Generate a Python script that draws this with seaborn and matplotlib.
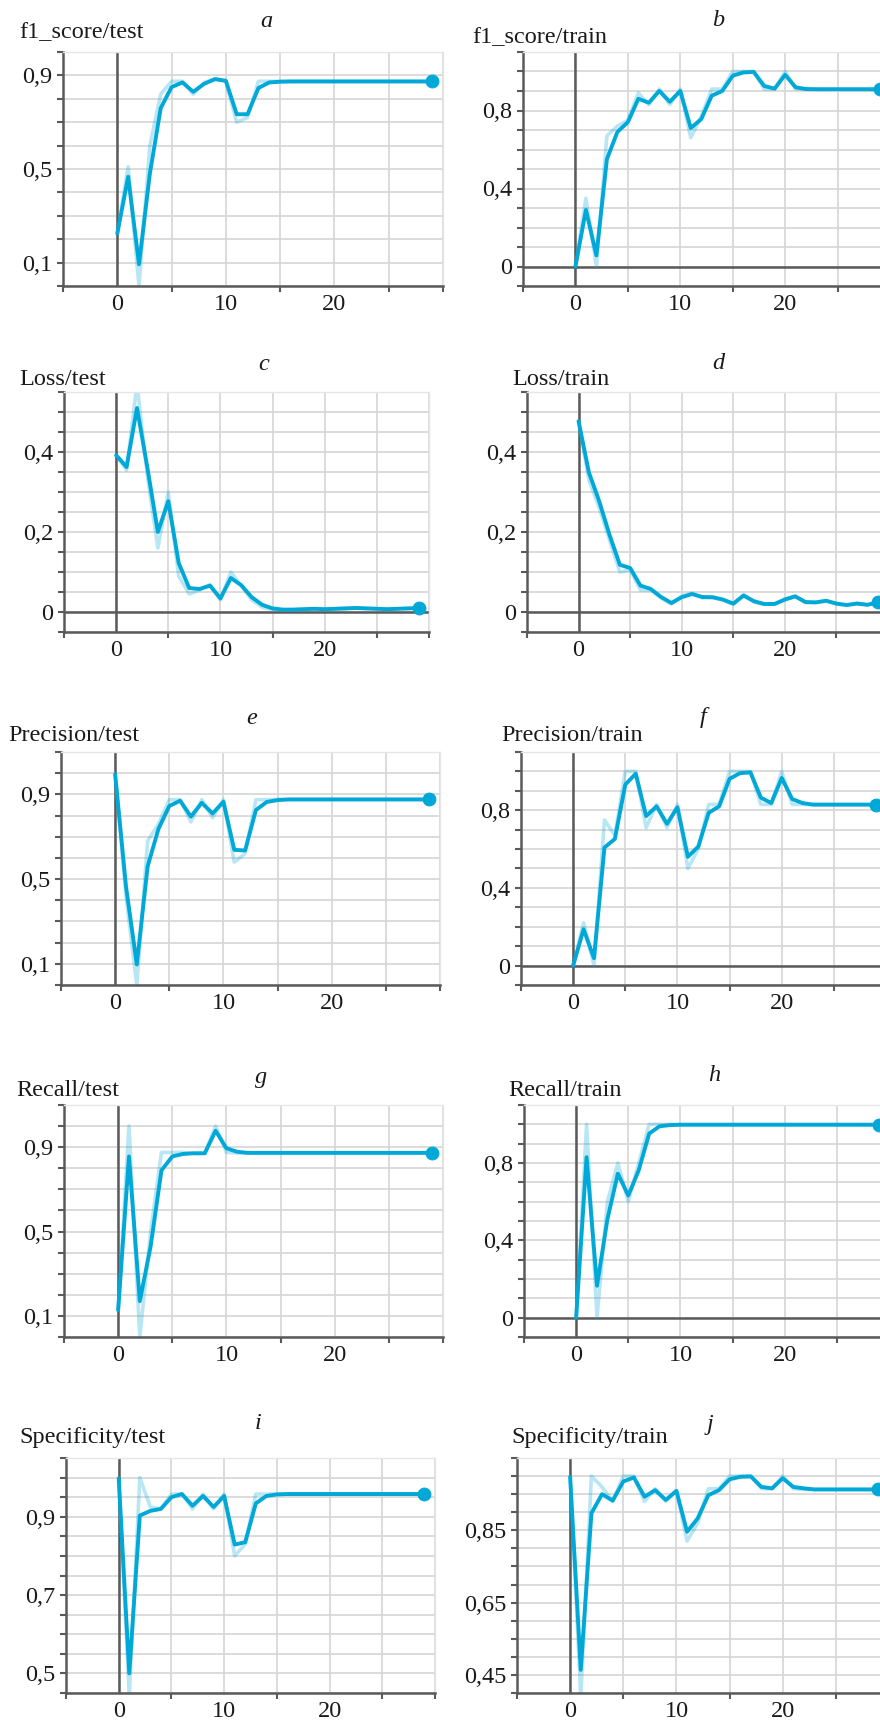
import numpy as np
import pandas as pd
import matplotlib
matplotlib.use("Agg")
import matplotlib.pyplot as plt
from matplotlib.ticker import FixedLocator, MultipleLocator
import seaborn as sns

# ---------------- data ----------------
epochs = list(range(30))

f1_test_raw = [0.224, 0.51, 0.0, 0.60, 0.82, 0.875, 0.875, 0.82, 0.87, 0.885, 0.875, 0.70, 0.72, 0.875, 0.875,
               0.875, 0.875, 0.875, 0.875, 0.875, 0.875, 0.875, 0.875, 0.875, 0.875, 0.875, 0.875, 0.875, 0.875, 0.875]
f1_test_smooth = [0.224, 0.467, 0.093, 0.48, 0.76, 0.85, 0.87, 0.83, 0.864, 0.884, 0.877, 0.734, 0.734, 0.846, 0.870,
                  0.873, 0.874, 0.874, 0.874, 0.874, 0.874, 0.874, 0.874, 0.874, 0.874, 0.874, 0.874, 0.874, 0.874, 0.874]

f1_train_raw = [0.0, 0.35, 0.0, 0.67, 0.72, 0.75, 0.89, 0.83, 0.91, 0.83, 0.91, 0.66, 0.77, 0.91, 0.91,
                1.0, 1.0, 1.0, 0.91, 0.91, 1.0, 0.91, 0.909, 0.909, 0.909, 0.909, 0.909, 0.909, 0.909, 0.909]
f1_train_smooth = [0.0, 0.29, 0.057, 0.55, 0.69, 0.74, 0.86, 0.84, 0.90, 0.845, 0.90, 0.71, 0.756, 0.876, 0.90,
                   0.978, 0.995, 0.998, 0.926, 0.912, 0.983, 0.919, 0.91, 0.909, 0.909, 0.909, 0.909, 0.909, 0.909, 0.909]

loss_test_raw = [0.392, 0.355, 0.57, 0.34, 0.16, 0.30, 0.09, 0.045, 0.055, 0.068, 0.03, 0.10, 0.065, 0.03, 0.012,
                 0.006, 0.005, 0.006, 0.007, 0.008, 0.007, 0.008, 0.009, 0.010, 0.009, 0.008, 0.007, 0.008, 0.009, 0.010]
loss_test_smooth = [0.392, 0.3625, 0.51, 0.36, 0.20, 0.277, 0.1225, 0.06, 0.0575, 0.066, 0.034, 0.085, 0.067, 0.037, 0.018,
                    0.009, 0.006, 0.006, 0.007, 0.008, 0.007, 0.008, 0.009, 0.010, 0.009, 0.008, 0.007, 0.008, 0.009, 0.010]

loss_train_raw = [0.477, 0.33, 0.26, 0.18, 0.10, 0.105, 0.055, 0.055, 0.035, 0.02, 0.04, 0.047, 0.035, 0.036, 0.03,
                  0.019, 0.044, 0.025, 0.019, 0.02, 0.033, 0.04, 0.023, 0.024, 0.029, 0.02, 0.017, 0.022, 0.018, 0.025]
loss_train_smooth = [0.477, 0.349, 0.277, 0.193, 0.118, 0.11, 0.066, 0.0575, 0.0375, 0.0225, 0.037, 0.045, 0.0375, 0.037, 0.031,
                     0.021, 0.041, 0.027, 0.02, 0.02, 0.031, 0.039, 0.025, 0.024, 0.028, 0.021, 0.0175, 0.021, 0.018, 0.024]

prec_test_raw = [0.995, 0.42, 0.0, 0.68, 0.76, 0.875, 0.875, 0.77, 0.875, 0.79, 0.875, 0.58, 0.62, 0.875, 0.875,
                 0.876, 0.876, 0.876, 0.876, 0.876, 0.876, 0.876, 0.876, 0.876, 0.876, 0.876, 0.876, 0.876, 0.876, 0.876]
prec_test_smooth = [0.995, 0.466, 0.097, 0.56, 0.737, 0.845, 0.87, 0.795, 0.86, 0.81, 0.865, 0.638, 0.635, 0.826, 0.864,
                    0.873, 0.876, 0.876, 0.876, 0.876, 0.876, 0.876, 0.876, 0.876, 0.876, 0.876, 0.876, 0.876, 0.876, 0.876]

prec_train_raw = [0.0, 0.22, 0.0, 0.75, 0.67, 1.0, 1.0, 0.71, 0.83, 0.71, 0.83, 0.5, 0.6, 0.83, 0.83,
                  1.0, 1.0, 1.0, 0.83, 0.83, 1.0, 0.83, 0.83, 0.829, 0.829, 0.829, 0.829, 0.829, 0.829, 0.829]
prec_train_smooth = [0.0, 0.187, 0.038, 0.608, 0.652, 0.932, 0.988, 0.77, 0.82, 0.73, 0.815, 0.56, 0.613, 0.787, 0.82,
                     0.962, 0.991, 0.995, 0.865, 0.837, 0.966, 0.858, 0.837, 0.829, 0.829, 0.829, 0.829, 0.829, 0.829, 0.829]

recall_test_raw = [0.127, 1.0, 0.0, 0.50, 0.875, 0.875, 0.875, 0.871, 0.871, 1.0, 0.875, 0.873, 0.873, 0.873, 0.873,
                   0.873, 0.873, 0.873, 0.873, 0.873, 0.873, 0.873, 0.873, 0.873, 0.873, 0.873, 0.873, 0.873, 0.873, 0.873]
recall_test_smooth = [0.127, 0.856, 0.17, 0.43, 0.79, 0.856, 0.868, 0.871, 0.871, 0.978, 0.895, 0.878, 0.873, 0.873, 0.873,
                      0.873, 0.873, 0.873, 0.873, 0.873, 0.873, 0.873, 0.873, 0.873, 0.873, 0.873, 0.873, 0.873, 0.873, 0.873]

recall_train_raw = [0.0, 1.0, 0.0, 0.6, 0.8, 0.6, 0.8, 1.0, 1.0, 1.0, 0.998, 0.998, 0.998, 0.998, 0.998,
                    0.998, 0.998, 0.998, 0.998, 0.998, 0.998, 0.998, 0.998, 0.998, 0.998, 0.998, 0.998, 0.998, 0.998, 0.998]
recall_train_smooth = [0.0, 0.83, 0.165, 0.51, 0.745, 0.632, 0.762, 0.952, 0.99, 0.996, 0.998, 0.998, 0.998, 0.998, 0.998,
                       0.998, 0.998, 0.998, 0.998, 0.998, 0.998, 0.998, 0.998, 0.998, 0.998, 0.998, 0.998, 0.998, 0.998, 0.998]

spec_test_raw = [0.998, 0.44, 1.0, 0.925, 0.92, 0.958, 0.958, 0.92, 0.958, 0.92, 0.958, 0.80, 0.83, 0.958, 0.958,
                 0.958, 0.958, 0.958, 0.958, 0.958, 0.958, 0.958, 0.958, 0.958, 0.958, 0.958, 0.958, 0.958, 0.958, 0.958]
spec_test_smooth = [0.998, 0.5, 0.903, 0.915, 0.92, 0.95, 0.958, 0.928, 0.953, 0.925, 0.953, 0.829, 0.835, 0.934, 0.953,
                    0.957, 0.958, 0.958, 0.958, 0.958, 0.958, 0.958, 0.958, 0.958, 0.958, 0.958, 0.958, 0.958, 0.958, 0.958]

spec_train_raw = [0.998, 0.39, 1.0, 0.97, 0.93, 1.0, 1.0, 0.93, 0.965, 0.93, 0.96, 0.82, 0.87, 0.965, 0.965,
                  1.0, 1.0, 1.0, 0.965, 0.965, 1.0, 0.965, 0.963, 0.963, 0.963, 0.963, 0.963, 0.963, 0.963, 0.963]
spec_train_smooth = [0.998, 0.464, 0.897, 0.95, 0.932, 0.985, 0.996, 0.943, 0.961, 0.934, 0.959, 0.846, 0.883, 0.947, 0.961,
                     0.991, 0.998, 0.999, 0.97, 0.966, 0.994, 0.97, 0.966, 0.963, 0.963, 0.963, 0.963, 0.963, 0.963, 0.963]

panel_letters = ["a", "b", "c", "d", "e", "f", "g", "h", "i", "j"]
panel_names = ["f1_score/test", "f1_score/train", "Loss/test", "Loss/train",
               "Precision/test", "Precision/train", "Recall/test", "Recall/train",
               "Specificity/test", "Specificity/train"]
xtick_values = [0, 10, 20]
xtick_labels = ["0", "10", "20"]
ytick_values = [[0.1, 0.5, 0.9], [0.0, 0.4, 0.8], [0.0, 0.2, 0.4], [0.0, 0.2, 0.4],
                [0.1, 0.5, 0.9], [0.0, 0.4, 0.8], [0.1, 0.5, 0.9], [0.0, 0.4, 0.8],
                [0.5, 0.7, 0.9], [0.45, 0.65, 0.85]]
ytick_labels = [["0,1", "0,5", "0,9"], ["0", "0,4", "0,8"], ["0", "0,2", "0,4"], ["0", "0,2", "0,4"],
                ["0,1", "0,5", "0,9"], ["0", "0,4", "0,8"], ["0,1", "0,5", "0,9"], ["0", "0,4", "0,8"],
                ["0,5", "0,7", "0,9"], ["0,45", "0,65", "0,85"]]

raw_series = [f1_test_raw, f1_train_raw, loss_test_raw, loss_train_raw, prec_test_raw,
              prec_train_raw, recall_test_raw, recall_train_raw, spec_test_raw, spec_train_raw]
smooth_series = [f1_test_smooth, f1_train_smooth, loss_test_smooth, loss_train_smooth, prec_test_smooth,
                 prec_train_smooth, recall_test_smooth, recall_train_smooth, spec_test_smooth, spec_train_smooth]

# ---------------- layout / style ----------------
W, H = 880, 1722
# (left, right, top, bottom) in pixels
boxes = [(63, 443, 52, 286), (523, 890, 52, 286),
         (64, 429, 392, 632), (527, 888, 392, 632),
         (61, 440, 752, 985), (521, 886, 752, 985),
         (64, 443, 1105, 1337), (524, 889, 1105, 1337),
         (66, 435, 1458, 1693), (517, 889, 1458, 1693)]
ylims = [(0, 1.0), (-0.1, 1.1), (-0.05, 0.55), (-0.05, 0.55), (0, 1.1),
         (-0.1, 1.1), (0, 1.1), (-0.1, 1.1), (0.45, 1.05), (0.40, 1.05)]
ysteps = [0.1, 0.1, 0.05, 0.05, 0.1, 0.1, 0.1, 0.1, 0.05, 0.05]
title_pos = [(266, 27), (718, 26), (264, 370), (718, 369), (252, 724),
             (703, 723), (261, 1083), (714, 1081), (258, 1429), (710, 1430)]
name_pos = [(19, 38), (472, 43), (19, 385), (512, 385), (8, 741),
            (501, 741), (16, 1096), (508, 1096), (19, 1443), (511, 1443)]

LINE = "#00a8d8"
DARK = "#5a5a5a"
GRID = "#d6d6d6"

sns.set_theme(style="white")
plt.rcParams['font.family'] = ['Liberation Serif', 'DejaVu Serif']
FS = 17.5

fig = plt.figure(figsize=(W / 100, H / 100), dpi=100)
fig.patch.set_facecolor("white")

for k in range(10):
    l, r, t, b = boxes[k]
    ax = fig.add_axes([l / W, 1 - b / H, (r - l) / W, (b - t) / H])
    df = pd.DataFrame({"step": epochs, "raw": raw_series[k], "smooth": smooth_series[k]})
    ax.grid(which="both", color=GRID, lw=1.2, zorder=0)
    ax.axvline(0, color=DARK, lw=1.8, zorder=1)
    lo, hi = ylims[k]
    if lo < 0:
        ax.axhline(0, color=DARK, lw=1.8, zorder=1)
    sns.lineplot(data=df, x="step", y="raw", ax=ax, color=LINE, alpha=0.28, lw=2.6, zorder=2)
    sns.lineplot(data=df, x="step", y="smooth", ax=ax, color=LINE, lw=2.8, zorder=3)
    sns.scatterplot(data=df.tail(1), x="step", y="smooth", ax=ax, color=LINE, s=85,
                    edgecolor=LINE, zorder=4, clip_on=False)
    ax.set_xlim(-5, 30)
    ax.set_ylim(lo, hi)
    ax.set_xlabel("")
    ax.set_ylabel("")
    ax.set_xticks(xtick_values, xtick_labels)
    ax.xaxis.set_minor_locator(FixedLocator([-5, 5, 15, 25, 30]))
    ax.set_yticks(ytick_values[k], ytick_labels[k])
    ax.yaxis.set_minor_locator(MultipleLocator(ysteps[k]))
    ax.tick_params(axis="x", which="major", bottom=True, length=0, pad=6,
                   labelsize=FS, labelcolor="#1a1a1a")
    ax.tick_params(axis="x", which="minor", bottom=True, length=4.5, width=1.5,
                   color=DARK, direction="out")
    ax.tick_params(axis="y", which="both", left=True, length=4.5, width=1.5,
                   color=DARK, direction="out", pad=3, labelsize=FS, labelcolor="#1a1a1a")
    for s in ("left", "bottom"):
        ax.spines[s].set_color(DARK)
        ax.spines[s].set_linewidth(1.8)
    for s in ("top", "right"):
        ax.spines[s].set_color("#e6e6e6")
        ax.spines[s].set_linewidth(1.0)
    ax.set_facecolor("white")

    tx, ty = title_pos[k]
    fig.text(tx / W, 1 - ty / H, panel_letters[k], ha="center", va="baseline",
             fontsize=FS, style="italic", color="#1a1a1a")
    nx, ny = name_pos[k]
    fig.text(nx / W, 1 - ny / H, panel_names[k], ha="left", va="baseline",
             fontsize=FS, color="#1a1a1a")

fig.savefig("out.png", dpi=100, facecolor="white")
